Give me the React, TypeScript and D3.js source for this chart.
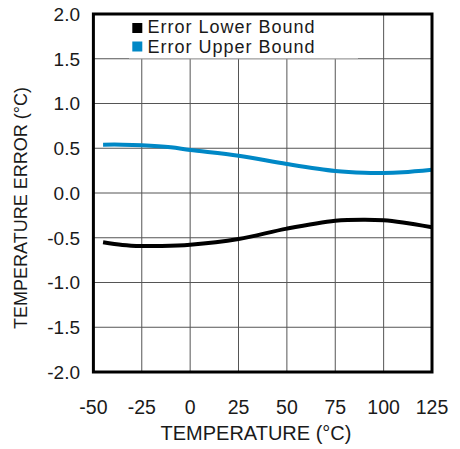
import React from "react";
import * as d3 from "d3";

const xTicks = [-50, -25, 0, 25, 50, 75, 100, 125];
const yTicks = [2.0, 1.5, 1.0, 0.5, 0.0, -0.5, -1.0, -1.5, -2.0];

const upperTemps = [-45, -35, -25, -10, 0, 25, 50, 75, 90, 100, 110, 125];
const upperValues = [0.54, 0.54, 0.533, 0.51, 0.48, 0.417, 0.324, 0.246, 0.225, 0.223, 0.232, 0.26];

const lowerTemps = [-45, -35, -25, -15, 0, 25, 50, 75, 90, 100, 110, 125];
const lowerValues = [-0.55, -0.58, -0.592, -0.592, -0.578, -0.514, -0.398, -0.31, -0.298, -0.305, -0.33, -0.383];

const seriesNames = ["Error Lower Bound", "Error Upper Bound"];
const seriesColors = ["#000000", "#0088c6"];

const W = 460;
const H = 449;
const L = 93.4, R = 432, T = 14, B = 372;

export default function App() {
  const x = d3.scaleLinear().domain([-50, 125]).range([L, R]);
  const y = d3.scaleLinear().domain([-2, 2]).range([B, T]);
  const line = d3
    .line<[number, number]>()
    .x((d) => x(d[0]))
    .y((d) => y(d[1]))
    .curve(d3.curveCatmullRom.alpha(0.5));
  const upper: [number, number][] = upperTemps.map((t, i) => [t, upperValues[i]]);
  const lower: [number, number][] = lowerTemps.map((t, i) => [t, lowerValues[i]]);
  const font = "'Liberation Sans', Arial, Helvetica, sans-serif";
  const textColor = "#1a1a1a";
  return (
    <svg
      width={W}
      height={H}
      style={{ position: "absolute", left: 0, top: 0 }}
      fontFamily={font}
    >
      <rect x={0} y={0} width={W} height={H} fill="#fff" />
      {xTicks.slice(1, -1).map((t) => (
        <line key={"gx" + t} x1={x(t)} x2={x(t)} y1={T} y2={B} stroke="#555" strokeWidth={1} />
      ))}
      {yTicks.slice(1, -1).map((t) => (
        <line key={"gy" + t} x1={L} x2={R} y1={y(t)} y2={y(t)} stroke="#555" strokeWidth={1} />
      ))}
      <rect x={129} y={T} width={229} height={y(1.5) - T - 0.5} fill="#fff" />
      <line x1={129} x2={358} y1={y(1.5)} y2={y(1.5)} stroke="#bbb" strokeWidth={1} />
      <path d={line(lower) || ""} fill="none" stroke={seriesColors[0]} strokeWidth={4} />
      <path d={line(upper) || ""} fill="none" stroke={seriesColors[1]} strokeWidth={4} />
      <rect x={L} y={T} width={R - L} height={B - T} fill="none" stroke="#000" strokeWidth={3} />
      {seriesNames.map((n, i) => (
        <g key={n}>
          <rect x={132.3} y={23 + i * 18.5} width={10} height={10} fill={seriesColors[i]} />
          <text x={147.5} y={32.5 + i * 20.4} fontSize={18} letterSpacing={1} fill={textColor}>
            {n}
          </text>
        </g>
      ))}
      {yTicks.map((t) => (
        <text
          key={"ty" + t}
          x={80}
          y={y(t)}
          dy="0.36em"
          textAnchor="end"
          fontSize={19}
          fill={textColor}
        >
          {t.toFixed(1)}
        </text>
      ))}
      {xTicks.map((t) => (
        <text key={"tx" + t} x={x(t)} y={414} textAnchor="middle" fontSize={19.5} fill={textColor}>
          {t}
        </text>
      ))}
      <text x={256} y={440} textAnchor="middle" fontSize={20} fill={textColor}>
        TEMPERATURE (°C)
      </text>
      <text
        transform={`translate(27,208) rotate(-90)`}
        textAnchor="middle"
        fontSize={18}
        fill={textColor}
      >
        TEMPERATURE ERROR (°C)
      </text>
    </svg>
  );
}
